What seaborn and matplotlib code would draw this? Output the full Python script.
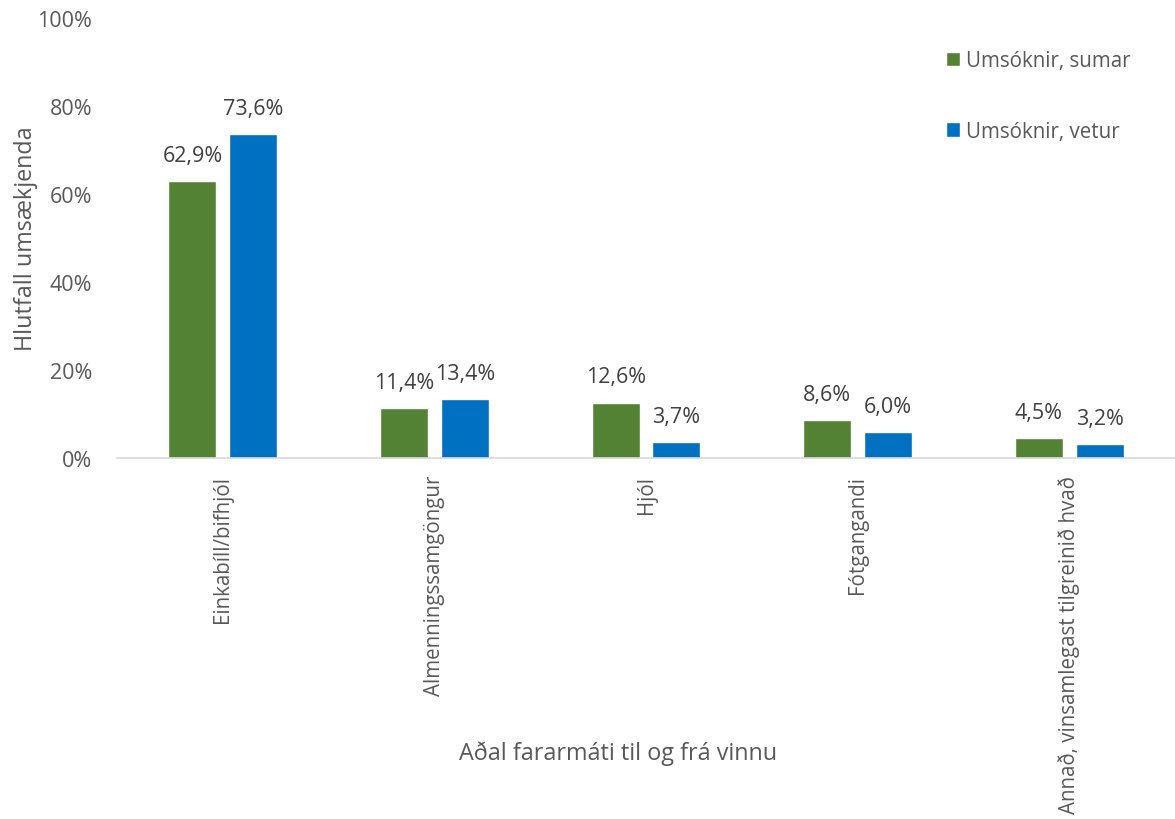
import matplotlib
matplotlib.use("Agg")
import matplotlib.pyplot as plt
import seaborn as sns
import pandas as pd

categories = ["Einkabíll/bifhjól", "Almenningssamgöngur", "Hjól", "Fótgangandi",
              "Annað, vinsamlegast tilgreinið hvað"]
series_names = ["Umsóknir, sumar", "Umsóknir, vetur"]
sumar = [62.9, 11.4, 12.6, 8.6, 4.5]
vetur = [73.6, 13.4, 3.7, 6.0, 3.2]
y_ticks = [0, 20, 40, 60, 80, 100]

sns.set_theme(style="white")
plt.rcParams["font.family"] = ["Open Sans", "DejaVu Sans"]

df = pd.DataFrame({
    "flokkur": categories * 2,
    "hlutfall": sumar + vetur,
    "röð": [series_names[0]] * len(categories) + [series_names[1]] * len(categories),
})

palette = {series_names[0]: "#548235", series_names[1]: "#0070C0"}
text_grey = "#595959"

fig = plt.figure(figsize=(11.75, 8.2), dpi=100)
ax = fig.add_axes([0.0996, 0.44, 0.9004, 0.537])

sns.barplot(data=df, x="flokkur", y="hlutfall", hue="röð", order=categories,
            hue_order=series_names, palette=palette, width=0.574, gap=0.21,
            saturation=1, ax=ax, legend=True)

for container in ax.containers:
    labels = [f"{v:.1f}%".replace(".", ",") for v in container.datavalues]
    ax.bar_label(container, labels=labels, padding=11, fontsize=15.5, color="#404040")

ax.set_ylim(0, 100)
ax.set_xlim(-0.5, len(categories) - 0.5)
ax.set_yticks(y_ticks)
ax.set_yticklabels([f"{t}%" for t in y_ticks], fontsize=15.5, color=text_grey)
ax.tick_params(axis="y", length=0, pad=18)
ax.tick_params(axis="x", length=0, pad=12)
ax.set_xticks(range(len(categories)))
ax.set_xticklabels(categories, rotation=90, fontsize=14.8, color=text_grey, va="top")

ax.set_xlabel("Aðal fararmáti til og frá vinnu", fontsize=16.8, color=text_grey, labelpad=0)
ax.xaxis.set_label_coords(0.474, -0.64)
ax.set_ylabel("Hlutfall umsækjenda", fontsize=16.8, color=text_grey)
ax.yaxis.set_label_coords(-0.075, 0.5)

for side in ["left", "right", "top"]:
    ax.spines[side].set_visible(False)
ax.spines["bottom"].set_color("#D9D9D9")
ax.spines["bottom"].set_linewidth(1.2)

leg = ax.legend(loc="upper left", bbox_to_anchor=(0.7755, 0.945), frameon=False,
                fontsize=14.8, labelspacing=2.4, handlelength=0.7, handleheight=0.7,
                handletextpad=0.3, borderaxespad=0)
for t in leg.get_texts():
    t.set_color(text_grey)

fig.savefig("out.png", dpi=100)
